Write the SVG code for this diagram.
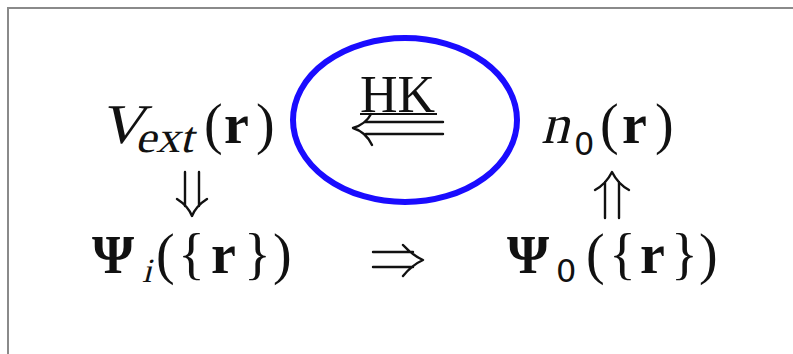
<svg xmlns="http://www.w3.org/2000/svg" width="793" height="354" viewBox="0 0 793 354">
<style>
.m{font-family:"Liberation Serif","Times New Roman",serif;fill:#111}
.b{font-weight:bold}
.s{font-family:"DejaVu Sans","Liberation Sans",sans-serif;fill:#111}
.arr{fill:none;stroke:#111;stroke-width:2.4;stroke-linecap:round;stroke-linejoin:round}
</style>
<rect x="0" y="0" width="793" height="354" fill="#fff"/>
<rect x="8" y="8" width="800" height="360" fill="#fff" stroke="#8a8a8a" stroke-width="2"/>
<g id="highlight">
<ellipse cx="405" cy="120" rx="112" ry="82" fill="none" stroke="#1a0cff" stroke-width="6"/>
</g>
<g id="node-vext">
<text class="m" transform="translate(99 143) skewX(-14)" font-size="56" textLength="45" lengthAdjust="spacingAndGlyphs">V</text>
<text class="m" transform="translate(135 152) skewX(-14)" font-size="44" textLength="58" lengthAdjust="spacingAndGlyphs">ext</text>
<text class="m" x="204" y="143" font-size="56">(</text>
<text class="m b" x="224" y="143" font-size="56">r</text>
<text class="m" x="256" y="143" font-size="56">)</text>
</g>
<g id="node-n0">
<text class="m" transform="translate(541 143) skewX(-14)" font-size="56">n</text>
<text class="s" x="574" y="155" font-size="32">0</text>
<text class="m" x="600" y="143" font-size="56">(</text>
<text class="m b" x="622" y="143" font-size="56">r</text>
<text class="m" x="655" y="143" font-size="56">)</text>
</g>
<g id="node-psii">
<text class="m b" x="92" y="273" font-size="54">Ψ</text>
<text class="m" transform="translate(142 282) skewX(-14)" font-size="34">i</text>
<text class="m" x="156" y="273" font-size="56">(</text>
<text class="m" x="178" y="273" font-size="56">{</text>
<text class="m b" x="211" y="273" font-size="56">r</text>
<text class="m" x="244" y="273" font-size="56">}</text>
<text class="m" x="273" y="273" font-size="56">)</text>
</g>
<g id="node-psi0">
<text class="m b" x="507" y="273" font-size="54">Ψ</text>
<text class="s" x="556" y="282" font-size="32">0</text>
<text class="m" x="586" y="273" font-size="56">(</text>
<text class="m" x="609" y="273" font-size="56">{</text>
<text class="m b" x="640" y="273" font-size="56">r</text>
<text class="m" x="671" y="273" font-size="56">}</text>
<text class="m" x="699" y="273" font-size="56">)</text>
</g>
<g id="connectors">
<g id="hk">
<text class="m" x="360" y="112" font-size="52">HK</text>
<line x1="360" y1="114" x2="437" y2="114" stroke="#111" stroke-width="2"/>
<path class="arr" d="M366 122H443M366 134H443M371 114Q366 124 353 128Q366 132 372 145"/>
</g>
<path id="vext-to-psii" class="arr" d="M185 172V206M199 172V206M177 199Q188 206 192 216Q196 206 207 199"/>
<path id="psii-to-psi0" class="arr" d="M373 252H413M373 267H413M403 245Q412 255 423 260Q412 265 403 276"/>
<path id="psi0-to-n0" class="arr" d="M605 218V182M619 218V182M595 190Q606 184 612 172Q618 184 629 190"/>
</g>
</svg>
